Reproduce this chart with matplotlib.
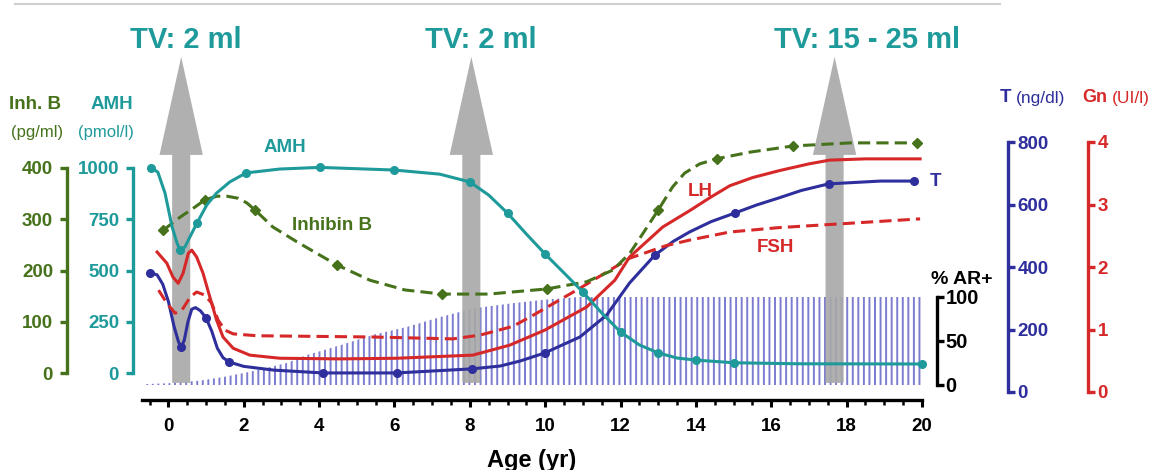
import matplotlib
matplotlib.use("Agg")
import matplotlib.pyplot as plt
import matplotlib.transforms as mtransforms
from matplotlib.patches import FancyArrow
from matplotlib.lines import Line2D

plt.rcParams['font.family'] = ['Liberation Sans', 'DejaVu Sans']
plt.rcParams['font.weight'] = 'bold'
plt.rcParams['axes.labelweight'] = 'bold'
plt.rcParams['hatch.linewidth'] = 1.4
plt.rcParams['hatch.color'] = '#7c7cd0'

# colours
TEAL = '#1f9a9a'
GREEN = '#46721c'
NAVY = '#2e2e9c'
RED = '#d62828'
HATCH = '#7c7cd0'

# ---- data ----
# AMH (pmol/l)
amh_age = [-0.45, -0.28, -0.09, 0.1, 0.23, 0.31, 0.44, 0.57, 0.76, 1.02, 1.28, 1.63, 2.06,
           2.96, 4.02, 6, 7.2, 8, 8.5, 9, 9.5, 10, 10.5, 11, 11.5, 12, 12.5, 13, 13.5, 14,
           15, 16.7, 20]
amh_val = [1000, 980, 878, 712, 634, 600, 615, 663, 732, 820, 878, 932, 976,
           995, 1003, 990, 970, 932, 868, 780, 678, 580, 488, 395, 293, 200, 137, 98, 73, 63,
           50, 45, 44]
amh_marks = [-0.45, 0.31, 0.76, 2.06, 4.02, 6, 8, 9, 10, 11, 12, 13, 14, 15, 20]

# Inhibin B (pg/ml)
inh_age = [-0.13, 0.31, 0.71, 0.97, 1.29, 1.55, 1.85, 2.08, 2.3, 2.77, 3.41, 4.02, 4.47, 5.35,
           6.28, 7.26, 8.5, 10.04, 11.1, 11.8, 12.25, 12.6, 13.0, 13.38, 13.7, 14.1, 14.55,
           15.44, 16.58, 18.1, 19.88]
inh_val = [279, 304, 324, 338, 345, 345, 341, 332, 318, 285, 256, 230, 211, 181,
           162, 154, 154, 164, 178, 201, 234, 273, 318, 363, 390, 408, 418,
           431, 443, 449, 449]
inh_marks = [-0.13, 0.97, 2.3, 4.47, 7.26, 10.04, 13.0, 14.55, 16.58, 19.88]

# Testosterone (ng/dl)
t_age = [-0.48, -0.3, -0.15, 0.0, 0.15, 0.27, 0.34, 0.42, 0.52, 0.62, 0.72, 0.85, 1.0, 1.15,
         1.3, 1.45, 1.61, 2.0, 2.8, 4.1, 6.06, 8.05, 8.8, 9.33, 9.99, 10.92, 11.63, 12.24,
         12.91, 13.4, 13.83, 14.4, 15.04, 15.6, 16.2, 16.8, 17.52, 18.9, 19.8]
t_val = [381, 375, 345, 290, 210, 160, 144, 165, 225, 265, 270, 260, 237, 195,
         140, 110, 96, 82, 70, 61, 61, 74, 83, 99, 125, 176, 246, 349,
         438, 482, 512, 545, 573, 598, 621, 645, 666, 675, 675]
t_marks = [-0.48, 0.34, 1.0, 1.61, 4.1, 6.06, 8.05, 9.99, 12.91, 15.04, 17.52, 19.8]

# LH (UI/l)
lh_age = [-0.3, -0.04, 0.12, 0.26, 0.39, 0.53, 0.62, 0.75, 0.92, 1.1, 1.28, 1.45, 1.72, 2.16,
          2.96, 4.55, 6.06, 8.08, 9.06, 9.99, 11.1, 11.85, 12.24, 13.12, 13.83, 14.4, 14.9,
          15.5, 16.2, 17.0, 17.55, 18.5, 19.95]
lh_val = [2.24, 2.06, 1.84, 1.74, 1.9, 2.22, 2.27, 2.16, 1.9, 1.52, 1.15, 0.88, 0.7, 0.59,
          0.54, 0.53, 0.54, 0.59, 0.75, 0.99, 1.36, 1.79, 2.16, 2.64, 2.9, 3.12, 3.3,
          3.43, 3.54, 3.65, 3.71, 3.73, 3.73]

# FSH (UI/l)
fsh_age = [-0.26, -0.04, 0.18, 0.36, 0.58, 0.75, 0.97, 1.15, 1.32, 1.5, 1.72, 2.35, 5.43,
           7.55, 8.27, 9.14, 9.6, 10.92, 12.24, 13.2, 13.83, 14.9, 16.2, 17.55, 19.95]
fsh_val = [1.63, 1.42, 1.26, 1.31, 1.52, 1.6, 1.55, 1.42, 1.15, 0.99, 0.93, 0.9, 0.88,
           0.85, 0.91, 1.05, 1.2, 1.66, 2.14, 2.34, 2.43, 2.56, 2.63, 2.68, 2.77]

# % AR+ envelope
ar_age = [-0.6, 0, 0.84, 1.45, 2.16, 3.14, 3.67, 4.55, 5.43, 6.33, 7.2, 8.08, 9.14, 10.0, 10.9, 20]
ar_val = [1, 2, 5, 9, 15, 25, 34, 45, 57, 66, 77, 87, 93, 97, 100, 100]

# testis volume arrows
tv_age = [0.34, 8.04, 17.68]
tv_text = ['TV: 2 ml', 'TV: 2 ml', 'TV: 15 - 25 ml']
tv_text_px = [(186, 40), (481, 40), (867, 40)]

W, H = 1161, 470
fig = plt.figure(figsize=(W / 100, H / 100), dpi=100)


def px(x, y):
    return x / W, 1 - y / H


# plot area: x 142..922 px, y 20..400 px
TOP, BOT = 20, 400
rect = [142 / W, (H - BOT) / H, 780 / W, (BOT - TOP) / H]
ax_ar = fig.add_axes(rect)
ax_t = ax_ar.twinx()
ax_gn = ax_ar.twinx()
ax_inh = ax_ar.twinx()
ax_amh = ax_ar.twinx()


def limits(v0, y0, v1, y1):
    s = (v1 - v0) / (y0 - y1)
    return v0 - (BOT - y0) * s, v1 + (y1 - TOP) * s


def style_y(ax, side, offset_px, lim, ticks, color, fs=13.5, pad=5):
    for sp in ax.spines.values():
        sp.set_visible(False)
    sp = ax.spines[side]
    sp.set_visible(True)
    sp.set_position(('outward', offset_px * 0.72))
    sp.set_bounds(ticks[0], ticks[-1])
    sp.set_linewidth(2.4)
    sp.set_color(color)
    ax.set_ylim(lim)
    ax.set_yticks(ticks)
    if side == 'left':
        ax.yaxis.tick_left()
    else:
        ax.yaxis.tick_right()
    ax.tick_params(axis='y', colors=color, length=5, width=2.4, labelsize=fs, pad=pad)
    ax.patch.set_visible(False)


style_y(ax_ar, 'right', 15, limits(0, 385, 100, 297), [0, 50, 100], 'black', fs=14.5, pad=1)
style_y(ax_t, 'right', 86, limits(0, 392, 800, 142), [0, 200, 400, 600, 800], NAVY, pad=2)
style_y(ax_gn, 'right', 166, limits(0, 392, 4, 142), [0, 1, 2, 3, 4], RED, pad=2)
style_y(ax_inh, 'left', 75, limits(0, 373, 400, 168), [0, 100, 200, 300, 400], GREEN)
style_y(ax_amh, 'left', 9, limits(0, 373, 1000, 168), [0, 250, 500, 750, 1000], TEAL)

# x axis on the base axes
ax_ar.spines['bottom'].set_visible(True)
ax_ar.spines['bottom'].set_linewidth(2.4)
ax_ar.set_xlim(-0.7, 20)
ax_ar.set_xticks(range(0, 21, 2))
ax_ar.set_xticks([i * 0.5 for i in range(-1, 41)], minor=True)
ax_ar.tick_params(axis='x', which='major', length=5, width=2.2, labelsize=13.5, pad=8)
ax_ar.tick_params(axis='x', which='minor', length=3.5, width=1.8)
ax_ar.set_xlabel('Age (yr)', fontsize=17, fontweight='bold', labelpad=10)

# % AR+ hatching
ax_ar.fill_between(ar_age, 0, ar_val, facecolor='none', edgecolor=HATCH, hatch='|||',
                   linewidth=0, zorder=1)

# big grey arrows
blend = mtransforms.blended_transform_factory(ax_ar.transData, ax_ar.transAxes)
for a in tv_age:
    ax_ar.add_patch(FancyArrow(a, 0.045, 0, 0.858, width=0.48, head_width=1.15,
                               head_length=0.258, length_includes_head=True,
                               transform=blend, color='#a8a8a8', alpha=0.9,
                               linewidth=0, zorder=2, clip_on=False))
for (x, y), s in zip(tv_text_px, tv_text):
    fig.text(*px(x, y), s, color=TEAL, fontsize=21, ha='center', va='center')

# curves
ax_t.plot(t_age, t_val, color=NAVY, lw=2.2, clip_on=False)
ax_t.plot(t_marks, [t_val[t_age.index(a)] for a in t_marks], 'o', color=NAVY, ms=5.5,
          clip_on=False)

ax_gn.plot(fsh_age, fsh_val, color=RED, lw=2.2, dashes=(4, 2), clip_on=False)
ax_gn.plot(lh_age, lh_val, color=RED, lw=2.2, clip_on=False)

ax_inh.plot(inh_age, inh_val, color=GREEN, lw=2.2, dashes=(4, 2), clip_on=False)
ax_inh.plot(inh_marks, [inh_val[inh_age.index(a)] for a in inh_marks], 'D', color=GREEN,
            ms=5, clip_on=False)

ax_amh.plot(amh_age, amh_val, color=TEAL, lw=2.2, clip_on=False)
ax_amh.plot(amh_marks, [amh_val[amh_age.index(a)] for a in amh_marks], 'o', color=TEAL,
            ms=5.5, clip_on=False)

# axis titles
fig.text(*px(35, 105), 'Inh. B', color=GREEN, fontsize=13.5, ha='center', va='center')
fig.text(*px(37, 132), '(pg/ml)', color=GREEN, fontsize=12, fontweight='normal',
         ha='center', va='center')
fig.text(*px(112, 105), 'AMH', color=TEAL, fontsize=13.5, ha='center', va='center')
fig.text(*px(106, 132), '(pmol/l)', color=TEAL, fontsize=12, fontweight='normal',
         ha='center', va='center')
fig.text(*px(1000, 98), 'T', color=NAVY, fontsize=13.5, ha='left', va='center')
fig.text(*px(1016, 98), '(ng/dl)', color=NAVY, fontsize=12.5, fontweight='normal',
         ha='left', va='center')
fig.text(*px(1082, 98), 'Gn', color=RED, fontsize=13, ha='left', va='center')
fig.text(*px(1112, 98), '(UI/l)', color=RED, fontsize=12.5, fontweight='normal',
         ha='left', va='center')
fig.text(*px(962, 279), '% AR+', color='black', fontsize=14, ha='center', va='center')

# curve labels
fig.text(*px(285, 148), 'AMH', color=TEAL, fontsize=13.5, ha='center', va='center')
fig.text(*px(332, 226), 'Inhibin B', color=GREEN, fontsize=13.5, ha='center', va='center')
fig.text(*px(700, 192), 'LH', color=RED, fontsize=13.5, ha='center', va='center')
fig.text(*px(775, 248), 'FSH', color=RED, fontsize=13.5, ha='center', va='center')
fig.text(*px(935, 182), 'T', color=NAVY, fontsize=13.5, ha='center', va='center')

# faint rule along the top edge
fig.add_artist(Line2D([15 / W, 1000 / W], [1 - 4 / H, 1 - 4 / H], color='#cfcfcf', lw=1.5))

fig.savefig('out.png', dpi=100)
